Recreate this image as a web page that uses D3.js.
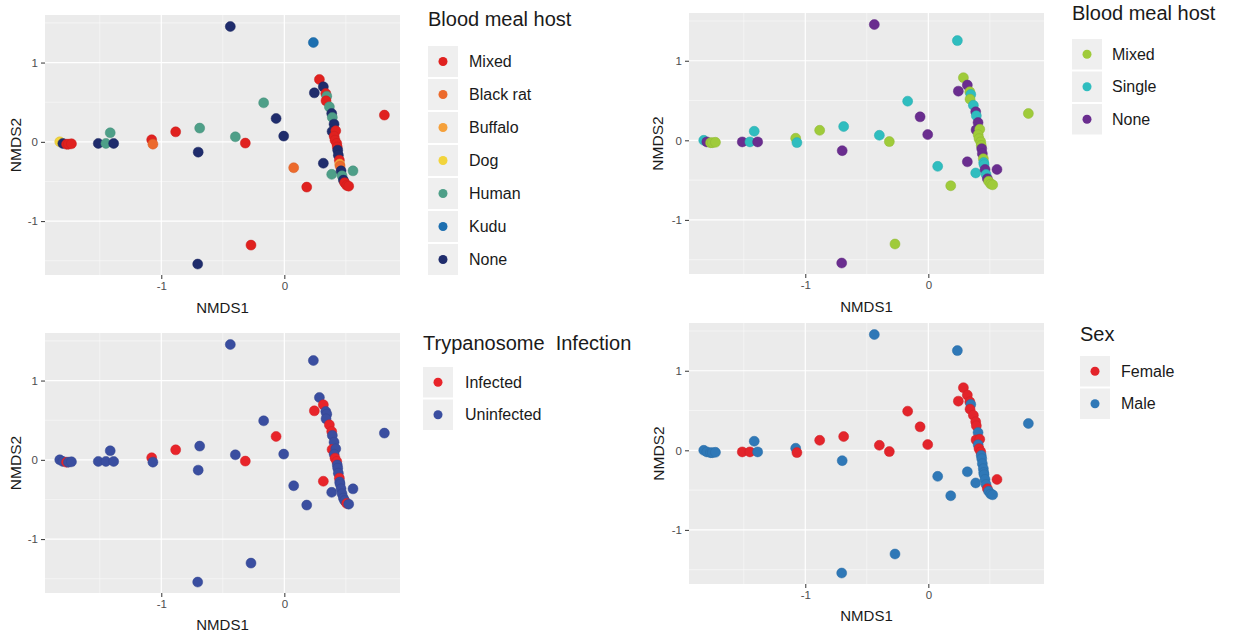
<!DOCTYPE html>
<html>
<head>
<meta charset="utf-8">
<script src="https://cdn.jsdelivr.net/npm/d3@7"></script>
<style>
  html, body { margin: 0; padding: 0; background: #ffffff; }
  svg { display: block; font-family: "Liberation Sans", Arial, sans-serif; }
</style>
</head>
<body>
<svg id="chart" width="1234" height="637"></svg>
<script>
// ---- data ----
const nmds1 = [-1.825,-1.80,-1.77,-1.755,-1.73,-1.512,-1.45,-1.387,-1.415,-1.078,-1.068,-0.883,-0.688,-0.70,-0.704,-0.439,-0.398,-0.317,-0.271,-0.168,-0.067,-0.005,0.076,0.182,0.236,0.317,0.813,0.558,0.385,
  0.285,0.317,0.244,0.337,0.345,0.339,0.366,0.385,0.39,0.404,0.388,0.418,0.405,0.412,0.426,0.43,0.434,0.439,0.447,0.45,0.453,0.461,0.469,0.48,0.49,0.507,0.523];
const nmds2 = [0.00,-0.02,-0.03,-0.03,-0.025,-0.02,-0.02,-0.02,0.114,0.026,-0.029,0.126,0.173,-0.13,-1.542,1.455,0.063,-0.016,-1.303,0.492,0.295,0.072,-0.327,-0.571,1.253,-0.27,0.337,-0.366,-0.41,
  0.787,0.694,0.618,0.61,0.576,0.517,0.441,0.358,0.308,0.223,0.131,0.139,0.07,0.021,-0.02,-0.065,-0.105,-0.168,-0.231,-0.28,-0.306,-0.366,-0.429,-0.483,-0.515,-0.55,-0.559];
const host = ["Dog","None","Mixed","Mixed","Mixed","None","Human","None","Human","Mixed","Black rat","Mixed","Human","None","None","None","Human","Mixed","Mixed","Human","None","None","Black rat","Mixed","Kudu","None","Mixed","Human","Human",
  "Mixed","None","None","Mixed","Human","Mixed","Human","None","Human","None","None","Mixed","Mixed","Mixed","Mixed","Mixed","None","None","Mixed","Buffalo","Black rat","None","Human","None","Mixed","Mixed","Mixed"];
const hostType = ["Single","None","Mixed","Mixed","Mixed","None","Single","None","Single","Mixed","Single","Mixed","Single","None","None","None","Single","Mixed","Mixed","Single","None","None","Single","Mixed","Single","None","Mixed","None","Single",
  "Mixed","None","None","Mixed","Single","Mixed","Single","None","Single","None","None","Mixed","Mixed","Mixed","Mixed","Mixed","None","None","Mixed","Single","Single","None","Single","None","Mixed","Mixed","Mixed"];
const infection = ["Uninfected","Uninfected","Infected","Uninfected","Uninfected","Uninfected","Uninfected","Uninfected","Uninfected","Infected","Uninfected","Infected","Uninfected","Uninfected","Uninfected","Uninfected","Uninfected","Infected","Uninfected","Uninfected","Infected","Uninfected","Uninfected","Uninfected","Uninfected","Infected","Uninfected","Uninfected","Uninfected",
  "Uninfected","Infected","Infected","Uninfected","Uninfected","Uninfected","Infected","Infected","Uninfected","Uninfected","Infected","Uninfected","Uninfected","Infected","Infected","Uninfected","Uninfected","Uninfected","Infected","Uninfected","Uninfected","Uninfected","Uninfected","Uninfected","Uninfected","Infected","Uninfected"];
const sex = ["Male","Male","Male","Male","Male","Female","Female","Male","Male","Male","Female","Female","Female","Male","Male","Male","Female","Female","Male","Female","Female","Female","Male","Male","Male","Male","Male","Female","Male",
  "Female","Female","Female","Female","Male","Female","Female","Female","Female","Male","Female","Female","Male","Female","Female","Male","Male","Male","Male","Male","Male","Male","Male","Female","Male","Male","Male"];

const hostLevels = ["Mixed","Black rat","Buffalo","Dog","Human","Kudu","None"];
const hostColors = ["#e0211f","#ec6a2c","#f5a03a","#f2d43c","#4e9f88","#1d6fb0","#1f2c6c"];
const typeLevels = ["Mixed","Single","None"];
const typeColors = ["#9fcb3a","#2fbdbf","#6a2d8f"];
const infLevels = ["Infected","Uninfected"];
const infColors = ["#e8242a","#3a4ea0"];
const sexLevels = ["Female","Male"];
const sexColors = ["#e3242b","#2f78b7"];

const xTicks = [-1, 0];
const yTicks = [-1, 0, 1];
const xMinor = [-1.5, -0.5, 0.5];
const yMinor = [-1.5, -0.5, 0.5, 1.5];
const xDomain = [-1.945, 0.94];
const yDomain = [-1.68, 1.6];

const svg = d3.select("#chart");

function panel(cfg) {
  const g = svg.append("g");
  const x = d3.scaleLinear().domain(xDomain).range([cfg.left, cfg.left + cfg.w]);
  const y = d3.scaleLinear().domain(yDomain).range([cfg.top + cfg.h, cfg.top]);
  g.append("rect").attr("x", cfg.left).attr("y", cfg.top).attr("width", cfg.w).attr("height", cfg.h).attr("fill", "#ebebeb");
  // minor grid
  g.selectAll(".vmin").data(xMinor).join("line")
    .attr("x1", d => x(d)).attr("x2", d => x(d)).attr("y1", cfg.top).attr("y2", cfg.top + cfg.h)
    .attr("stroke", "#fafafa").attr("stroke-width", 0.6);
  g.selectAll(".hmin").data(yMinor).join("line")
    .attr("y1", d => y(d)).attr("y2", d => y(d)).attr("x1", cfg.left).attr("x2", cfg.left + cfg.w)
    .attr("stroke", "#fafafa").attr("stroke-width", 0.6);
  // major grid
  g.selectAll(".vmaj").data(xTicks).join("line")
    .attr("x1", d => x(d)).attr("x2", d => x(d)).attr("y1", cfg.top).attr("y2", cfg.top + cfg.h)
    .attr("stroke", "#ffffff").attr("stroke-width", 1.2);
  g.selectAll(".hmaj").data(yTicks).join("line")
    .attr("y1", d => y(d)).attr("y2", d => y(d)).attr("x1", cfg.left).attr("x2", cfg.left + cfg.w)
    .attr("stroke", "#ffffff").attr("stroke-width", 1.2);

  // axes
  const ax = g.append("g").attr("transform", `translate(0,${cfg.top + cfg.h})`)
    .call(d3.axisBottom(x).tickValues(xTicks).tickSize(4).tickPadding(3).tickFormat(d => String(d)));
  const ay = g.append("g").attr("transform", `translate(${cfg.left},0)`)
    .call(d3.axisLeft(y).tickValues(yTicks).tickSize(4).tickPadding(3).tickFormat(d => String(d)));
  [ax, ay].forEach(a => {
    a.select(".domain").remove();
    a.selectAll(".tick line").attr("stroke", "#333333");
    a.selectAll(".tick text").attr("fill", "#4d4d4d").style("font-size", "11.5px").style("font-family", "Liberation Sans, Arial, sans-serif");
  });

  g.append("text").attr("x", cfg.left + cfg.w / 2).attr("y", cfg.xTitleY)
    .attr("text-anchor", "middle").attr("dominant-baseline", "central")
    .style("font-size", "15px").attr("fill", "#1a1a1a").text("NMDS1");
  g.append("text").attr("transform", `translate(${cfg.yTitleX},${cfg.top + cfg.h / 2}) rotate(-90)`)
    .attr("text-anchor", "middle").attr("dominant-baseline", "central")
    .style("font-size", "15.5px").attr("fill", "#1a1a1a").text("NMDS2");

  // points
  const idx = d3.range(nmds1.length);
  const col = d3.scaleOrdinal().domain(cfg.levels).range(cfg.colors);
  g.append("g").selectAll("circle").data(idx).join("circle")
    .attr("cx", i => x(nmds1[i])).attr("cy", i => y(nmds2[i])).attr("r", 5)
    .attr("fill", i => col(cfg.cat[i]))
    .attr("stroke", i => d3.color(col(cfg.cat[i])).darker(0.3)).attr("stroke-width", 0.5);

  // legend
  const L = cfg.legend;
  g.append("text").attr("x", L.x).attr("y", L.titleY)
    .style("font-size", "20px").attr("fill", "#1a1a1a").attr("xml:space", "preserve")
    .style("white-space", "pre").text(cfg.title);
  const items = g.append("g").selectAll("g").data(cfg.levels).join("g")
    .attr("transform", (d, i) => `translate(${L.x},${L.y + i * L.step})`);
  items.append("rect").attr("width", 30).attr("height", L.step - 2).attr("fill", "#efefef");
  items.append("circle").attr("cx", 15).attr("cy", (L.step - 2) / 2).attr("r", 4.5).attr("fill", d => col(d));
  items.append("text").attr("x", L.labelDx).attr("y", (L.step - 2) / 2)
    .attr("dominant-baseline", "central").style("font-size", "16px").attr("fill", "#1a1a1a").text(d => d);
}

panel({ left: 45, top: 15, w: 355, h: 260, xTitleY: 307, yTitleX: 15,
  levels: hostLevels, colors: hostColors, cat: host, title: "Blood meal host",
  legend: { x: 428, titleY: 26, y: 46, step: 33, labelDx: 41 } });
panel({ left: 689, top: 13, w: 355, h: 261, xTitleY: 306, yTitleX: 657,
  levels: typeLevels, colors: typeColors, cat: hostType, title: "Blood meal host",
  legend: { x: 1072, titleY: 20, y: 39, step: 32.5, labelDx: 40 } });
panel({ left: 45, top: 333, w: 355, h: 260, xTitleY: 624, yTitleX: 15,
  levels: infLevels, colors: infColors, cat: infection, title: "Trypanosome  Infection",
  legend: { x: 423, titleY: 350, y: 367, step: 32.5, labelDx: 42 } });
panel({ left: 689, top: 323, w: 355, h: 261, xTitleY: 615, yTitleX: 658,
  levels: sexLevels, colors: sexColors, cat: sex, title: "Sex",
  legend: { x: 1080, titleY: 341, y: 356, step: 32.5, labelDx: 41 } });
</script>
</body>
</html>
